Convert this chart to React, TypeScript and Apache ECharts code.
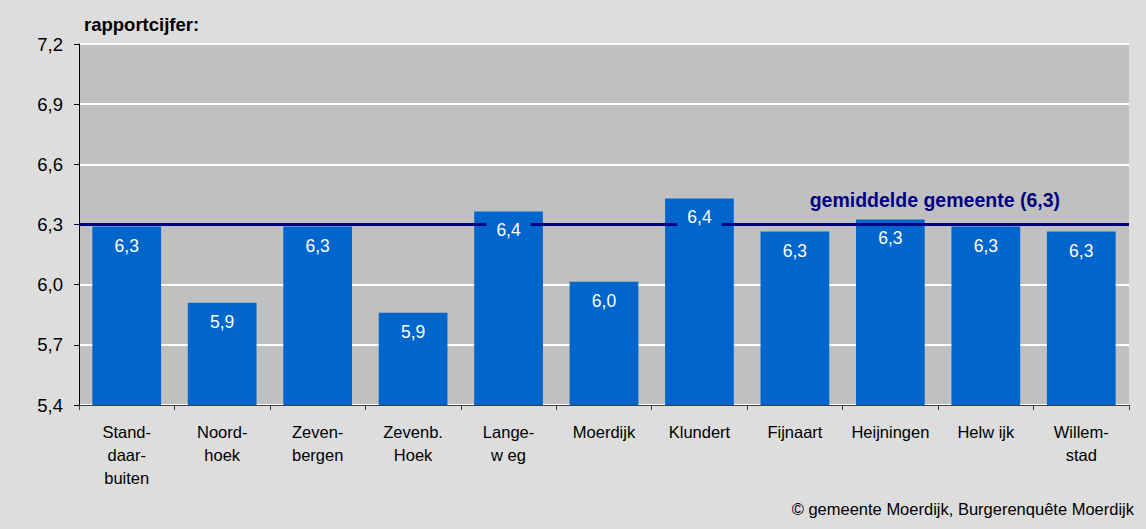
import React, { useEffect, useRef } from "react";
import * as echarts from "echarts";

const categories = [
  "Stand-\ndaar-\nbuiten",
  "Noord-\nhoek",
  "Zeven-\nbergen",
  "Zevenb.\nHoek",
  "Lange-\nw eg",
  "Moerdijk",
  "Klundert",
  "Fijnaart",
  "Heijningen",
  "Helw ijk",
  "Willem-\nstad",
];
const scores = [6.29, 5.91, 6.29, 5.86, 6.365, 6.015, 6.43, 6.265, 6.325, 6.29, 6.265];
const average = 6.3;
const averageLabel = "gemiddelde gemeente (6,3)";
const yMin = 5.4;
const yMax = 7.2;
const yStep = 0.3;
const titleText = "rapportcijfer:";
const sourceText = "© gemeente Moerdijk, Burgerenquête Moerdijk";

const FONT = "'Liberation Sans', Arial, sans-serif";
const BAR = "#0066cc";
const NAVY = "#000080";

const comma = (v: number) => v.toFixed(1).replace(".", ",");

export default function App() {
  const ref = useRef<HTMLDivElement>(null);
  useEffect(() => {
    const chart = echarts.init(ref.current!, null, { renderer: "svg" });
    chart.setOption({
      animation: false,
      backgroundColor: "#dddddd",
      textStyle: { fontFamily: FONT },
      title: [
        {
          text: titleText,
          left: 79,
          top: 10,
          textStyle: { fontFamily: FONT, fontSize: 18.5, fontWeight: "bold", color: "#000" },
        },
        {
          text: sourceText,
          right: 7,
          top: 495,
          textStyle: { fontFamily: FONT, fontSize: 16.5, fontWeight: "normal", color: "#000" },
        },
      ],
      grid: {
        left: 79,
        right: 17,
        top: 44,
        bottom: 124,
        show: true,
        backgroundColor: "#c0c0c0",
        borderWidth: 0,
      },
      xAxis: {
        type: "category",
        data: categories,
        axisLine: { show: true, lineStyle: { color: "#404040", width: 1 } },
        axisTick: { show: true, length: 5, alignWithLabel: false, lineStyle: { color: "#404040" } },
        axisLabel: {
          interval: 0,
          margin: 15,
          fontFamily: FONT,
          fontSize: 16.5,
          lineHeight: 23,
          color: "#000",
        },
        splitLine: { show: false },
      },
      yAxis: {
        type: "value",
        min: yMin,
        max: yMax,
        interval: yStep,
        axisLine: { show: true, lineStyle: { color: "#000", width: 1 } },
        axisTick: { show: true, length: 5, lineStyle: { color: "#000" } },
        axisLabel: {
          margin: 16,
          fontFamily: FONT,
          fontSize: 18.5,
          color: "#000",
          formatter: (v: number) => comma(v),
        },
        splitLine: { show: true, lineStyle: { color: "#ffffff", width: 2 } },
      },
      series: [
        {
          type: "bar",
          data: scores,
          barWidth: "72%",
          z: 2,
          itemStyle: { color: BAR },
          label: { show: false },
          markLine: {
            z: 4,
            silent: true,
            symbol: ["none", "none"],
            lineStyle: { color: NAVY, width: 3, type: "solid" },
            label: {
              show: true,
              position: "insideEndTop",
              formatter: averageLabel,
              color: NAVY,
              fontFamily: FONT,
              fontSize: 19.5,
              fontWeight: "bold",
              padding: [0, 54, 0, 0],
              distance: 15,
            },
            data: [{ yAxis: average }],
          },
        },
        {
          type: "bar",
          data: scores,
          barWidth: "72%",
          barGap: "-100%",
          z: 6,
          itemStyle: { color: "transparent" },
          label: {
            show: true,
            position: "insideTop",
            distance: 8,
            color: "#ffffff",
            fontFamily: FONT,
            fontSize: 17.5,
            backgroundColor: BAR,
            padding: [2, 10, 2, 10],
            formatter: (p: any) => comma(p.value),
          },
        },
      ],
    });
    return () => chart.dispose();
  }, []);
  return (
    <div
      ref={ref}
      style={{ position: "fixed", left: 0, top: 0, width: 1146, height: 529 }}
    />
  );
}
